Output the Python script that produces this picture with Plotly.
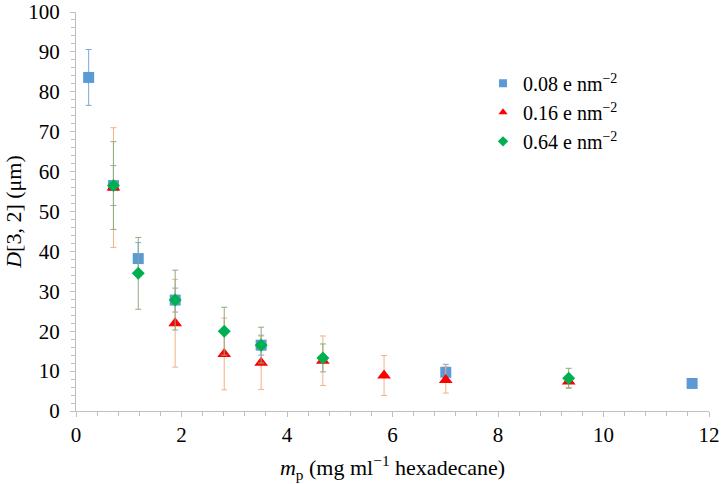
import plotly.graph_objects as go

# Series data
x_008 = [0.24, 0.71, 1.18, 1.88, 3.51, 7.01, 11.68]
y_008 = [83.6, 56.5, 38.2, 27.8, 16.5, 9.7, 6.9]
e_008 = [7.0, 5.0, 4.0, 3.0, 2.5, 2.0, 0.5]

x_016 = [0.71, 1.88, 2.81, 3.51, 4.68, 5.84, 7.01, 9.34]
y_016 = [56.0, 22.0, 14.3, 12.1, 12.6, 8.9, 7.8, 7.4]
e_016 = [15.0, 11.0, 9.0, 6.7, 6.2, 5.0, 3.3, 1.5]

x_064 = [0.71, 1.18, 1.88, 2.81, 3.51, 4.68, 9.34]
y_064 = [56.5, 34.5, 27.8, 20.0, 16.5, 13.3, 8.2]
e_064 = [11.0, 9.0, 7.5, 6.0, 4.5, 3.5, 2.5]

names = ["0.08 e nm<sup>−2</sup>", "0.16 e nm<sup>−2</sup>", "0.64 e nm<sup>−2</sup>"]
colors = ["#5B9BD5", "#FF0000", "#00B050"]
err_colors = ["#7BA7D8", "#F4B183", "#8FAA80"]
symbols = ["square", "triangle-up", "diamond"]

FONT = "Liberation Serif"

fig = go.Figure()
series = [(x_008, y_008, e_008, 11), (x_016, y_016, e_016, 12), (x_064, y_064, e_064, 10)]
for i, (xs, ys, es, sz) in enumerate(series):
    fig.add_trace(go.Scatter(
        x=xs, y=ys, mode="markers", name=names[i], showlegend=False,
        legendgroup=str(i),
        marker=dict(symbol=symbols[i], size=sz, color=colors[i]),
        error_y=dict(type="data", array=es, color=err_colors[i], thickness=1, width=3),
    ))
# legend-only entries with the small legend markers of the reference
for i in range(3):
    fig.add_trace(go.Scatter(
        x=[None], y=[None], mode="markers", name=names[i], legendgroup=str(i),
        marker=dict(symbol=symbols[i], size=8, color=colors[i]),
    ))

axis_common = dict(
    showline=True, linecolor="#BFBFBF", linewidth=1,
    showgrid=False, zeroline=False, automargin=False,
    ticks="outside", tickcolor="#BFBFBF", ticklen=5,
    tickfont=dict(family=FONT, size=21, color="#000000"),
)

fig.update_layout(
    width=721, height=484,
    margin=dict(l=76, r=12, t=12, b=73),
    paper_bgcolor="white", plot_bgcolor="white",
    font=dict(family=FONT, size=20, color="#000000"),
    xaxis=dict(
        range=[0, 12], dtick=2, tick0=0,
        minor=dict(ticks="outside", dtick=0.4, ticklen=4, tickcolor="#BFBFBF"),
        title=dict(text="<i>m</i><sub>p</sub> (mg ml<sup>−1</sup> hexadecane)",
                   font=dict(family=FONT, size=22), standoff=13),
        **axis_common,
    ),
    yaxis=dict(
        range=[0, 100], dtick=10, tick0=0,
        minor=dict(ticks="outside", dtick=2, ticklen=4, tickcolor="#BFBFBF"),
        ticklabelstandoff=6,
        title=dict(text="<i>D</i>[3, 2] (μm)", font=dict(family=FONT, size=22), standoff=0),
        **axis_common,
    ),
    legend=dict(
        x=0.643, y=0.87, xanchor="left", yanchor="top",
        bgcolor="rgba(0,0,0,0)", font=dict(family=FONT, size=20),
        itemwidth=30, tracegroupgap=0,
    ),
    showlegend=True,
)

# remove the browser's default 8px body margin so the figure fills the window
fig.write_html("out.html", config={"displayModeBar": False},
               post_script="document.body.style.margin='0';")
